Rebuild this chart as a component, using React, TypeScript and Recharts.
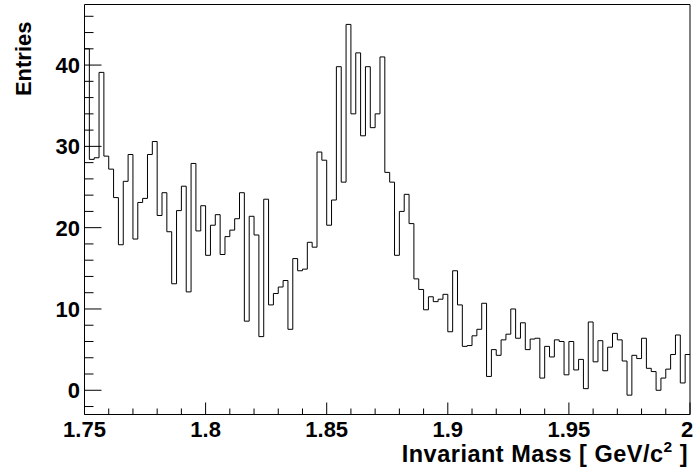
import React from "react";
import { LineChart, Line, XAxis, YAxis, ReferenceArea } from "recharts";

// histogram binning: 125 bins of 2 MeV between 1.75 and 2.0 GeV
const xMin = 1.75;
const xMax = 2.0;
const binWidth = 0.002;

// entries per bin
const counts: number[] = [
  42.0, 28.4, 28.6, 39.1, 28.8, 27.2, 23.7, 17.9, 25.7, 29.0,
  18.6, 23.1, 23.6, 29.0, 30.6, 21.5, 24.3, 19.5, 13.1, 22.1,
  25.1, 12.1, 27.9, 19.6, 22.7, 16.6, 20.3, 21.6, 16.7, 18.9,
  19.7, 21.1, 24.3, 8.5, 21.4, 19.1, 6.6, 23.5, 10.5, 11.9,
  12.7, 13.5, 7.5, 16.2, 14.7, 14.9, 18.2, 17.6, 29.3, 28.3,
  20.3, 23.4, 39.8, 25.6, 45.0, 34.0, 41.5, 31.3, 39.8, 32.3,
  34.0, 41.0, 26.8, 25.6, 16.6, 22.0, 24.1, 20.5, 13.7, 12.4,
  9.9, 11.5, 10.9, 11.2, 11.8, 7.2, 14.7, 10.5, 5.4, 5.5,
  6.7, 7.5, 10.7, 1.7, 5.0, 4.3, 6.2, 6.9, 10.0, 6.4,
  8.3, 5.0, 6.3, 6.4, 1.5, 5.4, 4.1, 6.2, 6.0, 1.9,
  6.0, 2.5, 3.8, 0.2, 8.4, 3.5, 6.1, 2.4, 5.3, 7.0,
  6.2, 3.6, -0.6, 4.3, 3.9, 6.4, 2.7, 2.3, 0.0, 1.5,
  2.6, 4.4, 6.8, 0.9, 4.4,
];

const yMin = -2.98;
const yMax = 47.45;

const xMajor = [1.75, 1.8, 1.85, 1.9, 1.95, 2.0];
const xMajorLabels = ["1.75", "1.8", "1.85", "1.9", "1.95", "2"];
const yMajor = [0, 10, 20, 30, 40];
const yMajorLabels = ["0", "10", "20", "30", "40"];

const xTitle = "Invariant Mass [ GeV/c";
const yTitle = "Entries";

// step outline: one point per bin edge, last edge repeats the last bin
const data = counts
  .map((c, i) => ({ x: xMin + i * binWidth, y: c }))
  .concat([{ x: xMax, y: counts[counts.length - 1] }]);

const xTicks: number[] = [];
for (let k = 0; k <= 25; k++) xTicks.push(Math.round((xMin + k * 0.01) * 1000) / 1000);
const yTicks: number[] = [];
for (let v = -2; v <= 46; v += 2) yTicks.push(v);

const font = "'Liberation Sans', Arial, Helvetica, sans-serif";

const W = 694;
const H = 472;
const left = 84.5;
const right = 690;
const top = 4.5;
const bottom = 414.5;

const findIdx = (arr: number[], v: number) =>
  arr.findIndex((m) => Math.abs(m - v) < 1e-6);

const XTick = (props: any) => {
  const { x, y, payload } = props;
  const i = findIdx(xMajor, payload.value);
  const major = i >= 0;
  // last label is pulled in a little so it stays on the canvas
  const shift = i === xMajor.length - 1 ? -3 : 0;
  return (
    <g>
      <line x1={x} x2={x} y1={y} y2={y - (major ? 12 : 6)} stroke="#000" strokeWidth={1} />
      {major && (
        <text
          x={x + shift}
          y={y + 22}
          textAnchor="middle"
          fontFamily={font}
          fontWeight="bold"
          fontSize={22}
          fill="#000"
        >
          {xMajorLabels[i]}
        </text>
      )}
    </g>
  );
};

const YTick = (props: any) => {
  const { x, y, payload } = props;
  const i = findIdx(yMajor, payload.value);
  const major = i >= 0;
  return (
    <g>
      <line x1={x} x2={x + (major ? 17 : 9)} y1={y} y2={y} stroke="#000" strokeWidth={1} />
      {major && (
        <text
          x={x - 4.5}
          y={y + 8}
          textAnchor="end"
          fontFamily={font}
          fontWeight="bold"
          fontSize={22}
          fill="#000"
        >
          {yMajorLabels[i]}
        </text>
      )}
    </g>
  );
};

export default function App() {
  return (
    <div style={{ position: "absolute", left: 0, top: 0, width: W, height: H, background: "#fff" }}>
      <LineChart
        width={W}
        height={H}
        data={data}
        margin={{ left: 0, right: W - right, top: top, bottom: 0 }}
      >
        <XAxis
          dataKey="x"
          type="number"
          domain={[xMin, xMax]}
          allowDataOverflow
          ticks={xTicks}
          interval={0}
          height={H - bottom}
          tickSize={0}
          tickMargin={0}
          tickLine={false}
          axisLine={false}
          tick={XTick}
        />
        <YAxis
          type="number"
          domain={[yMin, yMax]}
          allowDataOverflow
          ticks={yTicks}
          interval={0}
          width={left}
          tickSize={0}
          tickMargin={0}
          tickLine={false}
          axisLine={false}
          tick={YTick}
        />
        <ReferenceArea
          x1={xMin}
          x2={xMax}
          y1={yMin}
          y2={yMax}
          fill="none"
          stroke="#000"
          strokeWidth={1}
          ifOverflow="visible"
        />
        <Line
          dataKey="y"
          type="stepAfter"
          stroke="#000"
          strokeWidth={1}
          dot={false}
          activeDot={false}
          isAnimationActive={false}
        />
      </LineChart>
      <svg
        width={W}
        height={H}
        style={{ position: "absolute", left: 0, top: 0, pointerEvents: "none" }}
      >
        <text
          x={688}
          y={462}
          textAnchor="end"
          fontFamily={font}
          fontWeight="bold"
          fontSize={23.5}
          letterSpacing={0.5}
          fill="#000"
        >
          {xTitle}
          <tspan dy={-10} fontSize={15.5}>2</tspan>
          <tspan dy={10}> ]</tspan>
        </text>
        <text
          transform="translate(31,21.5) rotate(-90)"
          textAnchor="end"
          fontFamily={font}
          fontWeight="bold"
          fontSize={22}
          fill="#000"
        >
          {yTitle}
        </text>
      </svg>
    </div>
  );
}
